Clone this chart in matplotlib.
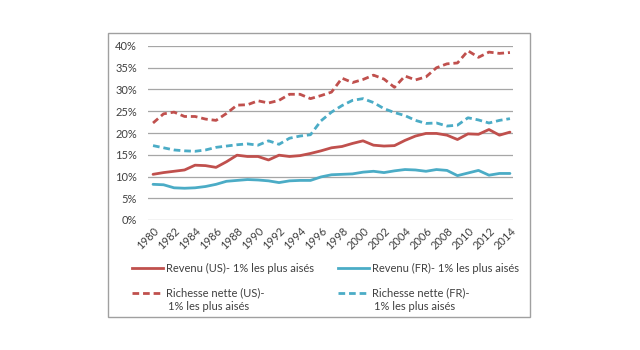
import matplotlib
matplotlib.use("Agg")
import matplotlib.pyplot as plt
from matplotlib.lines import Line2D
from matplotlib.patches import Rectangle
from matplotlib.ticker import FuncFormatter

plt.rcParams['font.family'] = ['Lato', 'DejaVu Sans']

years = list(range(1980, 2015))

# Parts du 1% le plus aisé (en %)
revenu_us = [10.5, 10.9, 11.2, 11.5, 12.6, 12.5, 12.1, 13.4, 14.9, 14.6,
             14.6, 13.8, 14.9, 14.6, 14.8, 15.3, 15.9, 16.6, 16.9, 17.6,
             18.2, 17.2, 17.0, 17.1, 18.3, 19.3, 19.9, 19.9, 19.5, 18.5,
             19.8, 19.7, 20.8, 19.5, 20.2]
revenu_fr = [8.2, 8.1, 7.4, 7.3, 7.4, 7.7, 8.2, 8.9, 9.1, 9.3,
             9.2, 9.0, 8.6, 9.0, 9.1, 9.1, 9.9, 10.4, 10.5, 10.6,
             11.0, 11.2, 10.9, 11.3, 11.6, 11.5, 11.2, 11.6, 11.4, 10.2,
             10.8, 11.4, 10.3, 10.7, 10.7]
richesse_us = [22.3, 24.4, 24.8, 23.8, 23.8, 23.2, 22.9, 24.5, 26.4, 26.5,
               27.4, 26.9, 27.5, 28.9, 28.9, 27.9, 28.6, 29.4, 32.6, 31.6,
               32.3, 33.3, 32.4, 30.5, 33.1, 32.2, 32.9, 35.0, 35.9, 36.1,
               38.9, 37.4, 38.6, 38.3, 38.5]
richesse_fr = [17.1, 16.6, 16.1, 15.9, 15.8, 16.1, 16.7, 17.0, 17.3, 17.5,
               17.2, 18.2, 17.4, 18.8, 19.3, 19.6, 22.8, 24.8, 26.3, 27.5,
               27.9, 27.0, 25.6, 24.7, 24.0, 22.9, 22.2, 22.3, 21.6, 21.8,
               23.5, 23.0, 22.3, 22.9, 23.3]

red = '#C0504D'
blue = '#4BACC6'
txt = '#404040'
dash = (0, (2.4, 1.4))

fig = plt.figure(figsize=(6.4, 3.5), dpi=100)
ax = fig.add_axes([148 / 640, 1 - 220 / 350, (513 - 148) / 640, (220 - 46) / 350])

ax.plot(years, revenu_us, color=red, lw=2.0, solid_capstyle='round')
ax.plot(years, revenu_fr, color=blue, lw=2.0, solid_capstyle='round')
ax.plot(years, richesse_us, color=red, lw=2.0, ls=dash)
ax.plot(years, richesse_fr, color=blue, lw=2.0, ls=dash)

ax.set_xlim(1979.52, 2014.29)
ax.set_ylim(0, 40)
ax.set_yticks(range(0, 41, 5))
ax.yaxis.set_major_formatter(FuncFormatter(lambda v, p: f"{int(v)}%"))
ax.set_xticks(years[::2])
ax.grid(axis='y', color='#A6A6A6', lw=0.9)
ax.set_axisbelow(True)
for s in ax.spines.values():
    s.set_visible(False)
ax.tick_params(axis='both', length=0, labelsize=8, colors=txt)
ax.tick_params(axis='y', pad=8)
ax.tick_params(axis='x', pad=4)
for lab in ax.get_xticklabels():
    lab.set_rotation(45)
    lab.set_ha('right')
    lab.set_rotation_mode('anchor')

# cadre du graphique
fig.add_artist(Rectangle((108 / 640, 1 - 317 / 350), (530 - 108) / 640, (317 - 33) / 350,
                         transform=fig.transFigure, fill=False, ec='#A0A0A0', lw=1.0))

# légende
entries = [
    (132, 268, red, '-', 'Revenu (US)- 1% les plus aisés', None),
    (338, 268, blue, '-', 'Revenu (FR)- 1% les plus aisés', None),
    (132, 293, red, dash, 'Richesse nette (US)-', '1% les plus aisés'),
    (338, 293, blue, dash, 'Richesse nette (FR)-', '1% les plus aisés'),
]
for x0, y0, c, ls, l1, l2 in entries:
    yf = 1 - y0 / 350
    fig.add_artist(Line2D([x0 / 640, (x0 + 31) / 640], [yf, yf], transform=fig.transFigure,
                          color=c, lw=2.0, ls=ls))
    fig.text((x0 + 34) / 640, yf, l1, fontsize=8, color=txt, va='center')
    if l2:
        fig.text((x0 + 36) / 640, yf - 13 / 350, l2, fontsize=8, color=txt, va='center')

fig.savefig('out.png', dpi=100)
